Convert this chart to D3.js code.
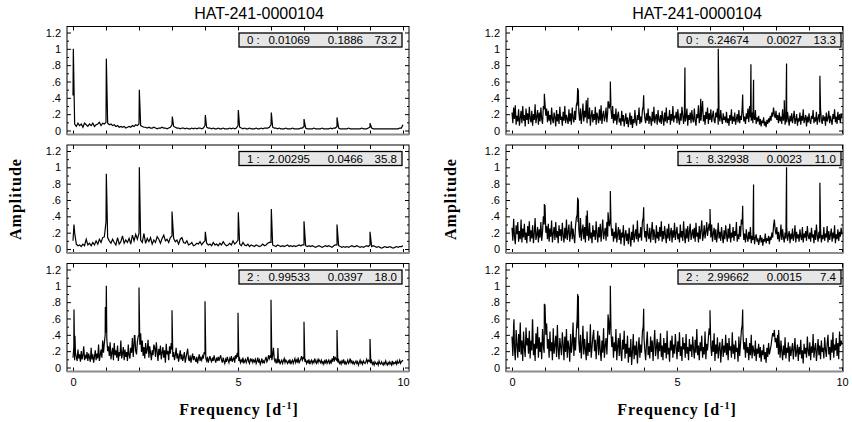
<!DOCTYPE html>
<html>
<head>
<meta charset="utf-8" />
<title>HAT-241-0000104 periodograms</title>
<style>
  body { margin: 0; background: #fff; }
  svg { display: block; }
  .tick text { font-family: "Liberation Sans", Arial, sans-serif; font-size: 11px; fill: #000; }
  .tick line { stroke: #000; }
  .title { font-family: "Liberation Sans", Arial, sans-serif; font-size: 16px; text-anchor: middle; }
  .axlabel { font-family: "Liberation Serif", "Times New Roman", serif; font-size: 16px; font-weight: bold; letter-spacing: 1px; text-anchor: middle; }
  .leg text { font-family: "Liberation Sans", Arial, sans-serif; font-size: 11.5px; }
</style>
<script src="https://cdn.jsdelivr.net/npm/d3@7"></script>
</head>
<body>
<div id="graph"></div>
<script>
var yTicks = [0, 0.2, 0.4, 0.6, 0.8, 1, 1.2];
var yTickLabels = ["0", ".2", ".4", ".6", ".8", "1", "1.2"];
var xTicks = [0, 1, 2, 3, 4, 5, 6, 7, 8, 9, 10];
var title = "HAT-241-0000104";

// sampling step (d^-1) of each noise array below, panels top to bottom
var stepsL = [0.05, 0.05, 0.025];
var stepsR = [0.025, 0.025, 0.025];

// amplitudes in hundredths, starting at 0 d^-1
var noiseL0 = [43,8,5,9,6,8,4,9,7,5,8,6,9,5,7,8,10,6,9,8,
  10,9,7,8,6,7,5,6,4,5,4,5,3,4,5,4,6,5,7,6,
  8,6,5,4,4,3,4,3,3,4,3,2,3,3,4,3,3,2,3,4,
  7,5,4,3,3,2,3,3,2,3,2,2,3,2,3,2,3,3,2,3,
  6,4,3,3,2,3,2,2,3,2,2,3,2,2,2,3,2,3,2,3,
  6,4,3,2,3,2,2,3,2,2,2,3,2,2,3,2,3,3,3,4,
  7,4,3,3,2,3,2,2,2,3,2,2,2,3,2,2,2,2,3,3,
  5,3,2,2,2,2,3,2,2,2,2,3,2,2,2,2,3,2,3,3,
  5,3,2,2,2,2,2,3,2,2,2,2,2,2,2,3,2,2,2,3,
  4,3,2,2,2,2,2,2,2,2,2,2,2,2,2,2,2,2,3,3,
  7];
var noiseL1 = [10,20,6,4,5,3,6,4,12,5,7,4,8,5,10,6,12,8,14,15,
  33,14,10,7,12,8,5,14,6,9,16,7,11,8,13,6,17,10,18,12,
  19,11,8,19,7,13,9,14,6,11,8,15,12,7,13,17,10,12,8,14,
  16,13,9,11,6,12,14,8,7,10,5,6,8,4,5,7,6,9,5,8,
  10,7,5,6,4,8,5,6,4,7,5,9,6,4,5,7,5,10,6,8,
  11,6,4,8,5,4,6,3,5,4,3,5,4,3,4,6,4,5,7,8,
  8,5,4,3,5,4,3,4,3,4,5,3,4,3,4,3,4,5,4,5,
  5,4,3,4,3,4,3,2,3,4,3,2,3,4,3,4,3,2,4,5,
  5,4,3,2,3,2,3,2,3,4,3,3,4,3,2,3,2,3,4,3,
  5,3,4,3,2,3,2,1,2,3,2,2,3,2,1,2,3,2,3,3,
  4];
var noiseL2 = [12,25,9,18,13,8,22,11,16,7,20,10,15,26,9,14,11,19,8,17,
  12,7,24,10,16,6,13,21,9,17,11,28,8,15,22,12,33,18,30,40,
  43,35,20,26,14,31,10,18,24,9,30,15,21,12,27,8,19,14,33,11,
  17,25,9,22,13,19,8,28,15,11,24,18,36,13,29,39,20,16,31,38,
  40,28,42,19,33,14,25,11,30,17,22,34,12,26,18,9,21,15,28,24,
  13,31,19,8,23,15,27,10,18,25,12,21,6,29,16,20,9,26,17,30,
  22,13,19,9,15,24,11,17,7,14,21,10,16,8,13,19,6,12,18,23,
  11,8,15,6,12,17,9,14,10,7,13,5,11,16,8,12,9,14,11,19,
  16,11,8,13,6,10,14,9,7,12,8,15,10,6,11,9,13,8,12,15,
  9,6,12,8,5,10,7,13,9,6,11,8,14,7,10,12,6,15,11,18,
  13,8,11,6,9,7,12,5,8,10,6,9,13,7,5,11,8,10,6,9,
  7,10,5,8,12,6,9,4,7,11,5,8,6,10,13,7,9,15,11,14,
  12,9,15,24,10,7,11,5,8,6,10,4,7,9,5,8,11,6,9,7,
  5,8,6,10,4,7,9,5,8,11,6,9,7,12,5,8,10,14,9,12,
  11,7,9,5,8,6,10,4,7,9,5,8,6,11,7,5,9,6,10,8,
  6,9,5,7,4,8,6,10,5,7,9,4,8,6,11,7,14,9,12,10,
  8,6,9,5,7,4,8,6,10,5,7,4,6,9,5,7,11,6,8,5,
  7,4,6,8,5,7,3,6,9,5,7,4,8,6,5,7,10,6,9,8,
  7,5,8,4,6,3,7,5,4,6,3,8,5,4,7,5,3,6,4,8,
  5,3,6,4,7,5,3,8,4,6,5,7,4,8,5,6,9,5,7,8,
  9];
var noiseR0 = [22,9,28,14,31,7,18,11,26,6,15,24,9,30,12,19,5,27,13,21,
  8,29,15,10,24,6,20,13,32,9,17,25,7,22,11,28,14,8,30,26,
  33,18,27,10,24,12,19,7,28,14,9,22,16,5,25,11,20,8,29,13,
  17,6,23,12,30,9,19,14,8,26,11,21,7,28,15,10,24,13,31,35,
  30,22,12,27,8,19,33,11,24,16,37,9,21,14,28,6,18,25,10,20,
  13,29,7,22,16,9,26,12,31,8,19,24,11,17,28,10,22,35,27,32,
  25,14,30,9,20,12,27,7,18,23,10,15,6,24,11,19,5,13,21,8,
  16,4,12,22,7,18,3,14,9,25,11,6,19,13,28,8,17,10,24,30,
  26,15,9,21,12,27,8,18,14,6,23,11,29,9,16,20,7,25,13,10,
  19,8,24,14,6,22,11,28,9,17,13,25,7,20,12,30,10,18,15,23,
  9,26,14,7,21,12,29,18,8,24,11,16,27,6,19,13,22,9,25,14,
  10,27,13,6,20,15,31,9,18,12,24,36,11,19,7,23,14,28,8,21,
  13,26,10,18,24,12,9,22,16,27,7,19,11,25,14,8,21,13,17,10,
  23,9,15,6,19,12,26,8,17,11,22,7,14,20,10,25,9,18,13,28,
  24,11,17,8,21,14,27,10,30,16,12,22,9,19,13,25,8,16,11,18,
  7,14,5,12,9,16,6,11,4,13,8,15,10,18,12,22,17,28,20,15,
  24,13,19,9,22,11,17,8,26,12,20,7,16,10,23,14,6,18,11,21,
  9,16,24,8,13,20,6,15,11,22,7,18,12,26,9,14,19,5,17,10,
  21,12,8,18,14,25,9,16,11,23,7,15,20,10,26,13,8,19,12,17,
  6,22,11,15,24,9,18,12,7,20,14,26,10,17,8,23,13,19,9,21,
  15];
var noiseR1 = [26,10,37,15,6,29,18,33,9,22,12,36,8,25,14,31,11,20,7,28,
  16,34,9,23,13,29,7,19,38,11,17,27,8,24,14,33,10,21,40,30,
  36,20,28,12,31,9,25,15,35,8,19,27,11,33,14,22,7,29,16,24,
  10,32,17,8,26,13,36,11,21,30,9,18,34,12,25,15,7,28,38,42,
  33,24,14,38,10,22,30,12,27,8,41,16,25,10,32,13,20,7,29,15,
  23,11,34,18,8,27,14,31,9,22,36,12,19,26,10,33,15,38,28,35,
  30,16,25,9,21,13,32,8,18,27,11,24,6,20,14,29,4,17,23,10,
  19,6,26,13,3,21,11,30,8,17,24,12,35,9,19,14,27,10,33,38,
  28,14,22,9,31,17,12,26,8,20,33,11,24,16,7,29,13,21,10,27,
  15,34,9,22,12,28,17,7,25,13,31,10,19,26,8,23,14,32,11,20,
  27,12,19,8,30,14,22,10,34,16,7,25,13,28,9,21,31,11,18,24,
  13,26,9,32,15,20,8,28,12,23,35,10,17,29,13,21,33,16,25,31,
  22,14,30,9,19,26,11,24,8,17,32,13,21,10,27,15,7,23,12,29,
  17,9,25,13,31,8,20,14,27,10,22,16,33,9,18,12,28,15,36,30,
  26,11,19,8,24,14,9,21,12,27,7,16,11,22,6,14,18,9,13,5,
  11,17,8,14,4,12,9,19,7,13,10,16,6,15,11,20,14,28,36,24,
  18,27,12,21,9,16,30,11,24,14,8,20,13,26,10,17,22,7,19,12,
  25,10,16,29,8,21,13,18,9,24,15,11,27,8,19,14,22,10,28,16,
  12,20,9,26,14,18,7,23,11,30,16,9,21,13,25,8,17,12,27,10,
  19,14,28,8,22,11,17,25,9,20,13,29,7,18,12,24,10,21,15,26,
  18];
var noiseR2 = [38,14,52,22,9,46,28,12,41,19,55,16,33,8,44,24,13,49,27,36,
  17,45,11,33,21,58,15,29,8,42,23,50,12,37,19,31,10,47,26,18,
  62,40,54,23,35,12,44,20,31,9,48,17,27,39,13,52,22,10,36,25,
  15,43,28,9,38,19,47,12,33,24,7,41,18,29,55,14,37,21,44,60,
  48,32,18,40,11,27,51,16,35,22,9,44,14,30,19,53,12,25,38,46,
  20,34,10,29,45,15,39,21,8,33,18,48,12,27,36,16,42,58,40,63,
  44,25,38,12,31,20,47,9,26,36,14,42,18,8,34,22,45,11,29,17,
  39,6,24,13,35,3,20,41,10,27,15,32,5,22,37,12,28,18,43,50,
  36,21,9,30,44,15,26,11,38,19,33,8,28,46,14,24,35,10,31,20,
  42,13,27,9,36,18,30,11,45,16,24,7,33,21,39,12,28,17,41,25,
  10,32,19,43,14,26,8,37,22,30,12,41,17,25,9,35,20,28,13,38,
  23,11,34,18,47,15,27,9,31,20,39,12,25,16,44,10,29,21,36,48,
  40,26,14,33,19,42,8,28,17,37,11,24,31,6,22,35,13,27,18,40,
  15,30,9,36,21,26,12,43,17,28,10,33,19,24,7,38,14,29,45,52,
  41,22,31,12,36,18,25,9,30,15,40,11,27,20,14,33,8,23,17,29,
  12,25,7,21,15,28,10,19,6,24,13,30,16,22,27,35,42,38,46,31,
  36,24,40,16,29,12,33,20,9,27,15,37,11,24,18,31,7,26,14,22,
  30,10,23,36,13,19,28,8,25,16,34,11,21,5,29,17,24,12,38,20,
  14,31,9,26,18,41,12,23,30,8,20,35,15,27,10,33,19,24,11,37,
  22,13,29,40,16,25,9,34,18,43,12,28,21,36,14,30,10,44,26,33,
  28];

// spectral peaks: [frequency, amplitude in hundredths]
var peaksL0 = [[0.01,100],[1.01,88],[2.01,50],[3.01,17],[4.01,19],[5.01,25],[6.01,22],[7.0,14],[8.0,16],[9.0,9]];
var peaksL1 = [[0.03,30],[1.01,92],[2.01,100],[3.0,46],[4.01,21],[5.01,45],[6.01,49],[7.0,34],[8.0,30],[9.0,21]];
var peaksL2 = [[0.03,71],[0.06,39],[0.98,74],[1.01,100],[1.86,39],[2.0,98],[3.0,70],[4.0,81],[5.0,67],[6.0,83],[6.21,24],[7.0,56],[8.0,46],[9.0,35]];
var peaksR0 = [[0.98,45],[1.99,52],[2.01,50],[2.3,40],[2.91,35],[2.98,60],[3.99,43],[5.24,77],[5.72,39],[6.25,100],[6.99,44],[7.24,81],[7.32,62],[8.25,37],[8.32,82],[9.33,67]];
var peaksR1 = [[0.98,55],[1.0,54],[1.99,63],[2.01,61],[2.28,47],[2.91,45],[2.98,71],[3.99,51],[6.0,49],[6.99,53],[7.32,79],[8.32,100],[9.33,81]];
var peaksR2 = [[0.06,59],[0.62,59],[0.98,78],[1.0,77],[1.99,90],[2.01,88],[2.91,65],[2.98,100],[3.99,72],[6.0,70],[6.99,71],[8.08,46]];

// legend rows: index, frequency, amplitude, S/N
var legendL = [["0 :","0.01069","0.1886","73.2"],["1 :","2.00295","0.0466","35.8"],["2 :","0.99533","0.0397","18.0"]];
var legendR = [["0 :","6.24674","0.0027","13.3"],["1 :","8.32938","0.0023","11.0"],["2 :","2.99662","0.0015","7.4"]];

var W = 852, H = 422;
var svg = d3.select("#graph").append("svg").attr("width", W).attr("height", H);

var cols = [
  { left: 67, right: 409, x0: 73, x1: 403, titleX: 259, labX: 239, ampX: 20.5,
    noise: [noiseL0, noiseL1, noiseL2], steps: stepsL, peaks: [peaksL0, peaksL1, peaksL2], legend: legendL },
  { left: 506, right: 843, x0: 512, x1: 842, titleX: 697, labX: 677, ampX: 455.5,
    noise: [noiseR0, noiseR1, noiseR2], steps: stepsR, peaks: [peaksR0, peaksR1, peaksR2], legend: legendR }
];
var tops = [26.5, 145, 263.5];
var frameH = 108;

function series(noise, step, peaks) {
  var pts = noise.map(function (v, i) { return [i * step, v / 100]; });
  peaks.forEach(function (p) { pts.push([p[0], p[1] / 100]); });
  pts.sort(function (a, b) { return a[0] - b[0]; });
  return pts;
}

cols.forEach(function (c) {
  svg.append("text").attr("class", "title").attr("x", c.titleX).attr("y", 18.5).text(title);

  var x = d3.scaleLinear().domain([0, 10]).range([c.x0, c.x1]);

  tops.forEach(function (top, k) {
    var bottom = top + frameH;
    var y = d3.scaleLinear().domain([0, 1.2]).range([top + 104, top + 6]);
    var g = svg.append("g");

    // minor ticks
    var minor = d3.range(0.1, 1.25, 0.2);
    g.append("g").attr("transform", "translate(" + c.left + ",0)")
      .call(d3.axisLeft(y).tickValues(minor).tickSize(-2).tickFormat(""))
      .call(function (s) { s.select(".domain").remove(); });
    g.append("g").attr("transform", "translate(" + c.right + ",0)")
      .call(d3.axisRight(y).tickValues(minor).tickSize(-2).tickFormat(""))
      .call(function (s) { s.select(".domain").remove(); });

    // major ticks
    g.append("g").attr("transform", "translate(" + c.left + ",0)")
      .call(d3.axisLeft(y).tickValues(yTicks).tickSize(-4).tickPadding(6)
        .tickFormat(function (d, i) { return yTickLabels[i]; }))
      .call(function (s) { s.select(".domain").remove(); });
    g.append("g").attr("transform", "translate(" + c.right + ",0)")
      .call(d3.axisRight(y).tickValues(yTicks).tickSize(-4).tickFormat(""))
      .call(function (s) { s.select(".domain").remove(); });
    g.append("g").attr("transform", "translate(0," + top + ")")
      .call(d3.axisTop(x).tickValues(xTicks).tickSize(-4).tickFormat(""))
      .call(function (s) { s.select(".domain").remove(); });
    g.append("g").attr("transform", "translate(0," + bottom + ")")
      .call(d3.axisBottom(x).tickValues(xTicks).tickSize(-4).tickPadding(7)
        .tickFormat(function (d) { return (k === 2 && d % 5 === 0) ? d : ""; }))
      .call(function (s) { s.select(".domain").remove(); });

    // spectrum
    var line = d3.line().x(function (d) { return x(d[0]); }).y(function (d) { return y(d[1]); });
    g.append("path")
      .datum(series(c.noise[k], c.steps[k], c.peaks[k]))
      .attr("d", line)
      .attr("fill", "none")
      .attr("stroke", "#000")
      .attr("stroke-width", 1.2);

    // frame
    g.append("rect")
      .attr("x", c.left).attr("y", top)
      .attr("width", c.right - c.left).attr("height", frameH)
      .attr("fill", "none").attr("stroke", "#000").attr("stroke-width", 1);
    g.append("line")
      .attr("x1", c.left).attr("x2", c.right)
      .attr("y1", bottom).attr("y2", bottom)
      .attr("stroke", "#8c8c8c").attr("stroke-width", 2);

    // legend box
    var row = c.legend[k];
    var bx = c.x0 + 166, by = top + 6.5;
    var leg = g.append("g").attr("class", "leg").attr("transform", "translate(" + bx + "," + by + ")");
    leg.append("rect").attr("width", 163).attr("height", 14)
      .attr("fill", "#e6e6e6").attr("stroke", "#000").attr("stroke-width", 1.3);
    leg.append("text").attr("x", 8).attr("y", 11).text(row[0]);
    leg.append("text").attr("x", 71).attr("y", 11).attr("text-anchor", "end").text(row[1]);
    leg.append("text").attr("x", 124).attr("y", 11).attr("text-anchor", "end").text(row[2]);
    leg.append("text").attr("x", 158).attr("y", 11).attr("text-anchor", "end").text(row[3]);
  });

  // axis labels
  svg.append("text").attr("class", "axlabel")
    .attr("transform", "translate(" + c.ampX + ",199) rotate(-90)")
    .text("Amplitude");
  var fl = svg.append("text").attr("class", "axlabel").attr("x", c.labX).attr("y", 415);
  fl.append("tspan").text("Frequency [d");
  fl.append("tspan").attr("dy", -6).attr("font-size", "10px").text("-1");
  fl.append("tspan").attr("dy", 6).text("]");
});
</script>
</body>
</html>
